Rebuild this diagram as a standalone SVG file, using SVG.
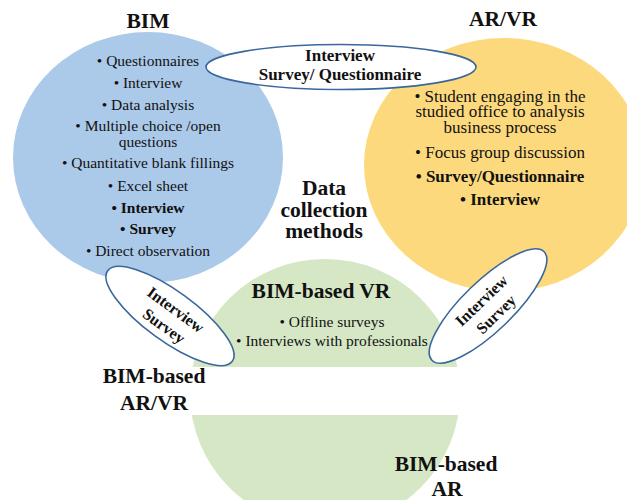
<svg xmlns="http://www.w3.org/2000/svg" width="627" height="500" viewBox="0 0 627 500">
  <style>
    text { fill: #111; text-anchor: middle; }
    .title { font-size: 21.5px; font-weight: bold; }
    .item { font-size: 15.5px; }
    .item-lg { font-size: 17px; }
    .b { font-weight: bold; }
    .tag { font-size: 17px; font-weight: bold; }
    .tag-sm { font-size: 16px; font-weight: bold; }
    .link { fill: #ffffff; stroke: #3b679c; stroke-width: 1.6; }
  </style>

  <rect width="627" height="500" fill="#ffffff"/>

  <g font-family="'Liberation Serif', 'DejaVu Serif', 'Times New Roman', serif">
  <!-- BIM-based VR / AR area (green), split by a white band -->
  <g id="bim-based-vr">
    <ellipse cx="325" cy="393" rx="135" ry="134" fill="#d5e7c4"/>
    <rect x="0" y="367" width="627" height="48" fill="#ffffff"/>
    <text class="title" x="321" y="298">BIM-based VR</text>
    <text class="item" x="332" y="327">• Offline surveys</text>
    <text class="item" x="332" y="346">• Interviews with professionals</text>
  </g>

  <!-- BIM area (blue) -->
  <g id="bim">
    <ellipse cx="148" cy="157.5" rx="135" ry="125.5" fill="#abc9e9"/>
    <text class="title" x="148" y="28" font-size="20">BIM</text>
    <text class="item" x="148" y="66">• Questionnaires</text>
    <text class="item" x="148" y="88">• Interview</text>
    <text class="item" x="148" y="110">• Data analysis</text>
    <text class="item" x="148" y="131">• Multiple choice /open</text>
    <text class="item" x="148" y="147">questions</text>
    <text class="item" x="148" y="168">• Quantitative blank fillings</text>
    <text class="item" x="148" y="191">• Excel sheet</text>
    <text class="item b" x="148" y="213">• Interview</text>
    <text class="item b" x="148" y="234">• Survey</text>
    <text class="item" x="148" y="256">• Direct observation</text>
  </g>

  <!-- AR/VR area (yellow) -->
  <g id="ar-vr">
    <ellipse cx="504" cy="165" rx="140" ry="127" fill="#fdd97d"/>
    <text class="title" x="503" y="26">AR/VR</text>
    <text class="item-lg" x="500" y="102">• Student engaging in the</text>
    <text class="item-lg" x="500" y="117">studied office to analysis</text>
    <text class="item-lg" x="500" y="133">business process</text>
    <text class="item-lg" x="500" y="158">• Focus group discussion</text>
    <text class="item-lg b" x="500" y="182">• Survey/Questionnaire</text>
    <text class="item-lg b" x="500" y="205">• Interview</text>
  </g>

  <!-- central label -->
  <g id="data-collection-methods">
    <text class="title" x="324" y="195">Data</text>
    <text class="title" x="324" y="217">collection</text>
    <text class="title" x="324" y="238">methods</text>
  </g>

  <!-- shared methods between the areas -->
  <g id="connectors">
    <g id="link-bim-arvr">
      <ellipse class="link" cx="341" cy="67" rx="135" ry="22.5"/>
      <text class="tag" x="340" y="61">Interview</text>
      <text class="tag" x="340" y="80">Survey/ Questionnaire</text>
    </g>
    <g id="link-bim-vr" transform="translate(170 316) rotate(36)">
      <ellipse class="link" cx="0" cy="0" rx="77" ry="25"/>
      <text class="tag-sm" x="1" y="-3">Interview</text>
      <text class="tag-sm" x="1" y="17">Survey</text>
    </g>
    <g id="link-arvr-vr" transform="translate(488 306) rotate(-44)">
      <ellipse class="link" cx="0" cy="0" rx="78" ry="25"/>
      <text class="tag-sm" x="-1" y="-3">Interview</text>
      <text class="tag-sm" x="0" y="17">Survey</text>
    </g>
  </g>

  <!-- group labels -->
  <g id="bim-based-ar-vr">
    <text class="title" x="154" y="383">BIM-based</text>
    <text class="title" x="154" y="410">AR/VR</text>
  </g>
  <g id="bim-based-ar">
    <text class="title" x="446" y="471">BIM-based</text>
    <text class="title" x="447" y="496">AR</text>
  </g>
  </g>
</svg>
